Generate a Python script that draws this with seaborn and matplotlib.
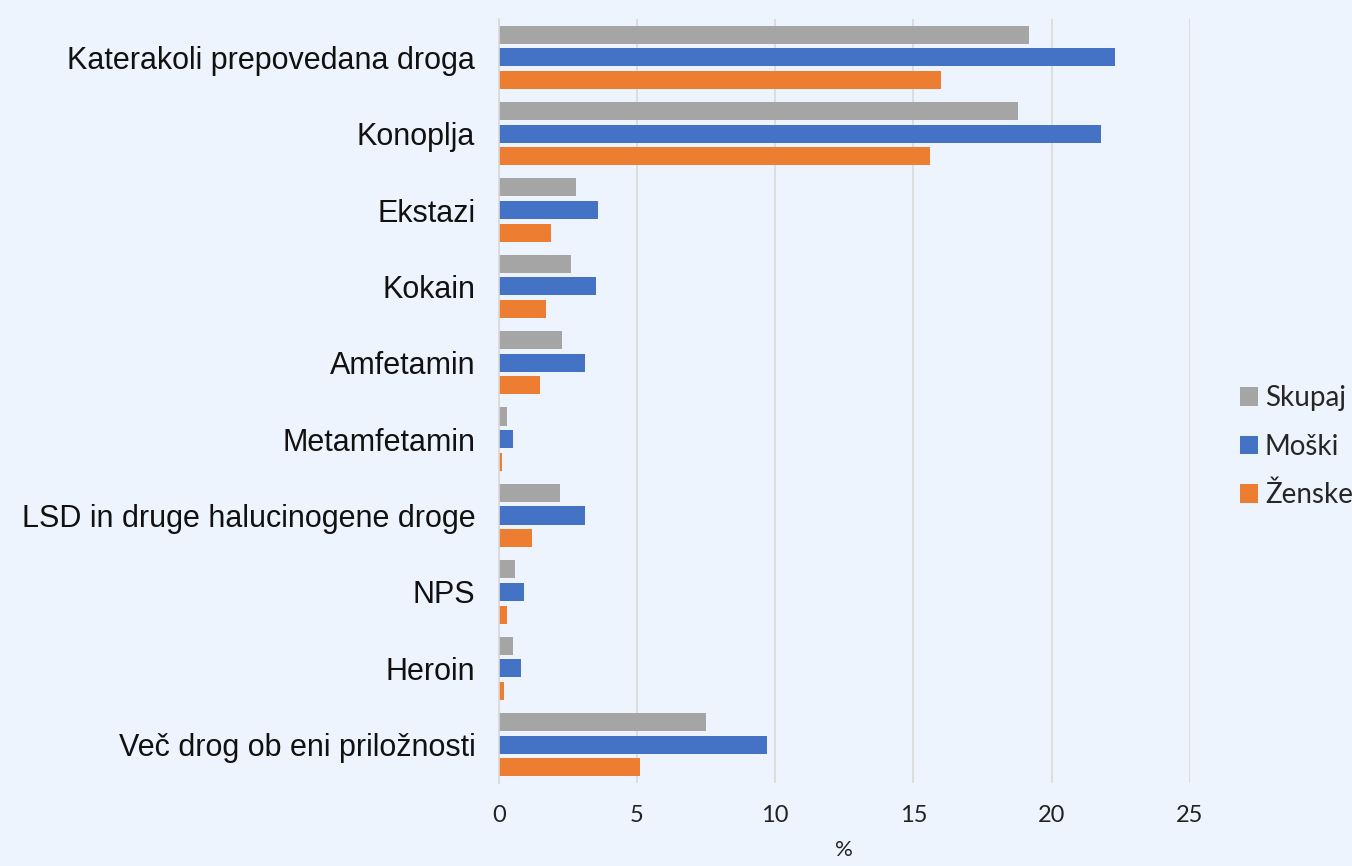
import pandas as pd
import seaborn as sns
import matplotlib.pyplot as plt

# prevalence of drug use, %
categories = ["Katerakoli prepovedana droga", "Konoplja", "Ekstazi", "Kokain",
              "Amfetamin", "Metamfetamin", "LSD in druge halucinogene droge",
              "NPS", "Heroin", "Več drog ob eni priložnosti"]
skupaj = [19.2, 18.8, 2.8, 2.6, 2.3, 0.3, 2.2, 0.6, 0.5, 7.5]
moski = [22.3, 21.8, 3.6, 3.5, 3.1, 0.5, 3.1, 0.9, 0.8, 9.7]
zenske = [16.0, 15.6, 1.9, 1.7, 1.5, 0.1, 1.2, 0.3, 0.2, 5.1]
groups = ["Skupaj", "Moški", "Ženske"]
x_ticks = [0, 5, 10, 15, 20, 25]

df = pd.DataFrame({"drug": categories, "Skupaj": skupaj, "Moški": moski, "Ženske": zenske})
df = df.melt(id_vars="drug", var_name="group", value_name="pct")

bg = "#EDF4FD"
sns.set_style("white")
plt.rcParams["font.family"] = ["Liberation Sans", "DejaVu Sans"]

fig = plt.figure(figsize=(13.52, 8.66), dpi=100, facecolor=bg)
ax = fig.add_axes([0.369, 0.096, 0.511, 0.882])
ax.set_facecolor(bg)

sns.barplot(data=df, y="drug", x="pct", hue="group", hue_order=groups,
            order=categories, orient="h",
            palette=["#A5A5A5", "#4472C4", "#ED7D31"], saturation=1,
            width=0.89, gap=0.2, linewidth=0, edgecolor="none", ax=ax)

ax.set_xlim(0, 25)
ax.set_xticks(x_ticks)
ax.set_xticklabels([str(t) for t in x_ticks], family="Lato", fontsize=17, color="#222222")
ax.set_xlabel("%", family="Lato", fontsize=16, color="#222222", labelpad=10)
ax.set_ylabel("")
ax.tick_params(axis="y", labelsize=22, length=0, pad=17, colors="#111111")
ax.tick_params(axis="x", length=0, pad=16)
ax.grid(axis="x", color="#D9D9D9", linewidth=1.2)
ax.set_axisbelow(True)
sns.despine(ax=ax, top=True, right=True, bottom=True)
ax.spines["left"].set_color("#D9D9D9")
ax.spines["left"].set_linewidth(1.2)

handles, labels = ax.get_legend_handles_labels()
ax.legend(handles, labels, loc="center left", bbox_to_anchor=(0.913, 0.484),
          bbox_transform=fig.transFigure, frameon=False,
          prop={"family": "Lato", "size": 20},
          handlelength=0.65, handleheight=0.65, handletextpad=0.25, labelspacing=0.8,
          borderaxespad=0, borderpad=0.2)

fig.savefig("out.png", dpi=100, facecolor=bg)
